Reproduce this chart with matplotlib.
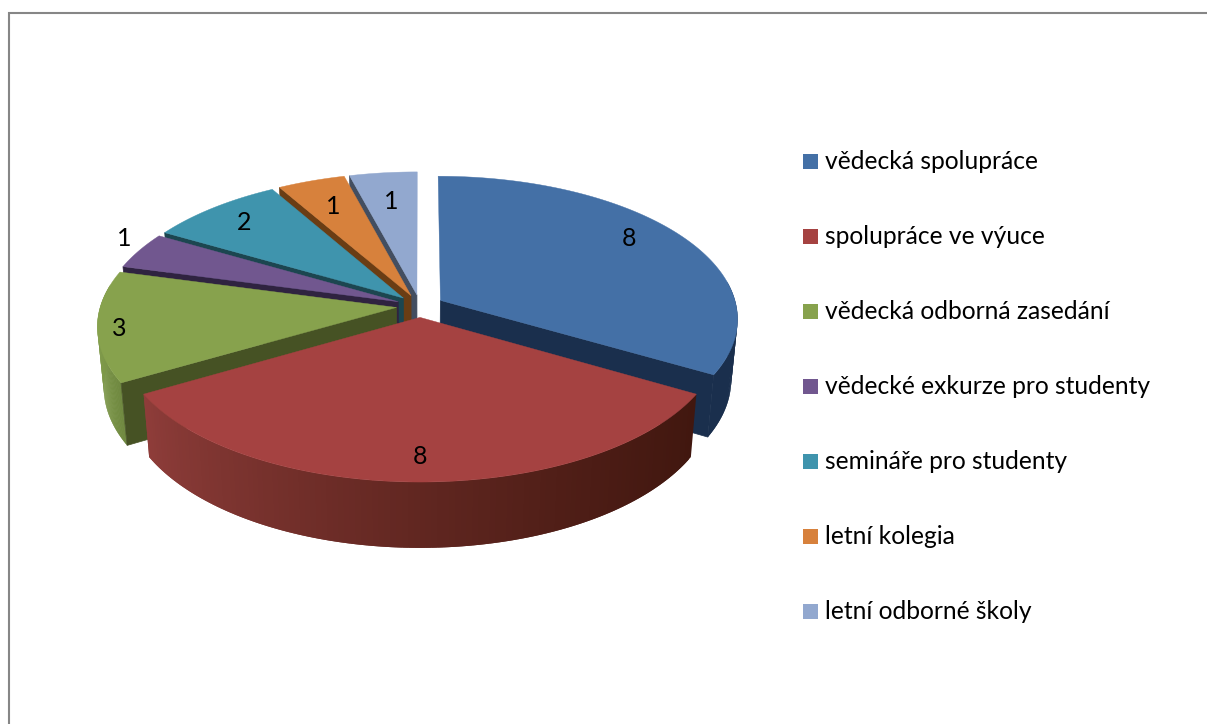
import numpy as np
import matplotlib
matplotlib.use('Agg')
import matplotlib.pyplot as plt
from matplotlib.colors import to_rgb

categories = ['vědecká spolupráce', 'spolupráce ve výuce', 'vědecká odborná zasedání',
              'vědecké exkurze pro studenty', 'semináře pro studenty', 'letní kolegia',
              'letní odborné školy']
values = [8, 8, 3, 1, 2, 1, 1]

top_colors = ['#4470a6', '#a54241', '#87a24d', '#71578f', '#3f94ad', '#d7813c', '#92a8cf']
side_colors = ['#1a2f4d', '#481a16', '#465224', '#2f2340', '#1c4650', '#6a3d14', '#434e60']
wall_left = ['#1a2f4d', '#8f3d3a', '#7f9a4a', '#5a4572', '#32768a', '#ab6730', '#74869f']
wall_right = ['#1a2f4d', '#41170f', '#6f8840', '#5a4572', '#32768a', '#ab6730', '#74869f']
label_radius = [0.825, 0.86, 0.93, 1.10, 0.83, 0.76, 0.74]
label_turn = [4.5, 0, 1.7, -3.5, 0, 0, 0]

# pie geometry in pixels
cx, cy = 420, 306
a, b = 296, 141
k = 0.125
h = 60
shrink = 0.98
explode = 0.08


def project(X, Y, lower=False):
    s = 1 / (1 - k * Y)
    f = shrink if lower else 1
    px = cx + a * X * s * f
    py = cy + b * Y * s * f
    if lower:
        py = py + h * s
    return px, py


fig = plt.figure(figsize=(12.07, 7.24), dpi=100)
ax = fig.add_axes([0, 0, 1, 1])
ax.set_xlim(0, 1207)
ax.set_ylim(724, 0)
ax.axis('off')
plt.rcParams['font.family'] = ['Lato', 'DejaVu Sans']

ax.plot([8.5, 8.5, 1207], [724, 12.5, 12.5], color='#868686', lw=1.5, solid_joinstyle='miter')

# slices run clockwise from 12 o'clock
total = sum(values)
ends = 90 - np.cumsum(values) / total * 360
starts = ends + np.array(values) / total * 360

# painter's order, back to front
order = [6, 5, 4, 3, 2, 0, 1]
for i in order:
    base_z = order.index(i) * 3
    mid_deg = (starts[i] + ends[i]) / 2
    mid = np.radians(mid_deg)
    ex, ey = explode * np.cos(mid), -explode * np.sin(mid)
    t = np.radians(np.linspace(starts[i], ends[i], 121))
    X = ex + np.cos(t)
    Y = ey - np.sin(t)

    tx, ty = project(X, Y)
    lx, ly = project(X, Y, lower=True)
    ax0, ay0 = project(ex, ey)
    bx0, by0 = project(ex, ey, lower=True)

    # outer wall, shaded left to right, quads overlap so no seams show
    # the back of the rim is never seen, so it is left out
    c0, c1 = np.array(to_rgb(wall_left[i])), np.array(to_rgb(wall_right[i]))
    xmin, xmax = tx.min(), tx.max()
    for j in range(len(t) - 1):
        if np.sin(t[j]) > 0.15:
            continue
        j2 = min(j + 2, len(t) - 1)
        frac = ((tx[j] + tx[j2]) / 2 - xmin) / max(xmax - xmin, 1)
        col = c0 + (c1 - c0) * frac ** 0.75
        ax.fill([tx[j], tx[j2], lx[j2], lx[j]], [ty[j], ty[j2], ly[j2], ly[j]],
                color=col, lw=0, zorder=base_z + 1)

    # radial faces, only the ones turned towards the viewer
    if np.sin(np.radians(starts[i] + 90)) < -1e-6:
        ax.fill([ax0, tx[0], lx[0], bx0], [ay0, ty[0], ly[0], by0],
                color=side_colors[i], lw=0.5, zorder=base_z + 2)
    if np.sin(np.radians(ends[i] - 90)) < -1e-6:
        ax.fill([ax0, tx[-1], lx[-1], bx0], [ay0, ty[-1], ly[-1], by0],
                color=side_colors[i], lw=0.5, zorder=base_z + 2)

    # top face
    ax.fill(np.r_[ax0, tx], np.r_[ay0, ty], color=top_colors[i], lw=0.3, zorder=base_z + 3)

    # data label
    r = label_radius[i]
    la = np.radians(mid_deg + label_turn[i])
    nx, ny = project(ex + r * np.cos(la), ey - r * np.sin(la))
    ax.text(nx, ny, str(values[i]), fontsize=18, ha='center', va='center', color='black', zorder=50)

# legend
for i, name in enumerate(categories):
    yc = 161.5 + 75 * i
    ax.fill([803, 818, 818, 803], [yc - 7.5, yc - 7.5, yc + 7.5, yc + 7.5], color=top_colors[i], lw=0)
    ax.text(825, yc, name, fontsize=17.7, ha='left', va='center', color='black')

plt.savefig('out.png', dpi=100)
plt.close()
